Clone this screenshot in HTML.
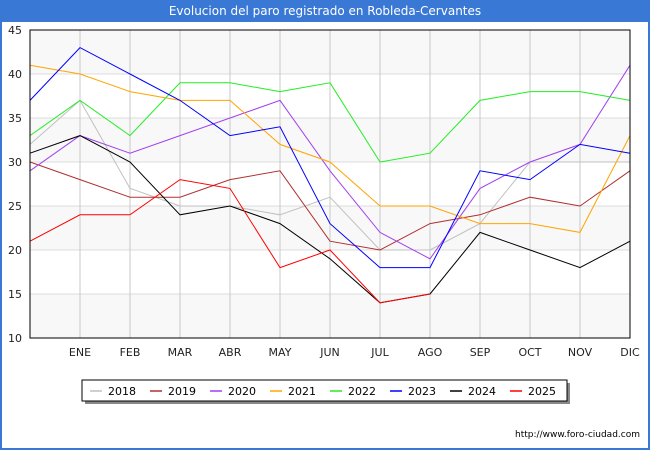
<!DOCTYPE html>
<html><head><meta charset="utf-8"><style>
body{margin:0;background:#fff;font-family:"DejaVu Sans","Liberation Sans",sans-serif}
#wrap{position:relative;width:650px;height:450px;overflow:hidden}
#title{position:absolute;left:0;top:0;width:650px;height:22px;background:#3a78d6;color:#fff;font-size:12px;text-align:center;line-height:22px}
#frame{position:absolute;left:0;top:22px;width:646px;height:426px;border:2px solid #3a78d6;border-top:none}
svg text{font-family:"DejaVu Sans","Liberation Sans",sans-serif}
</style></head><body>
<div id="wrap">
<div id="frame"></div>
<div id="title">Evolucion del paro registrado en Robleda-Cervantes</div>
<svg id="svg" width="650" height="450" style="position:absolute;left:0;top:0"></svg>
</div>
<script>
const months=["","ENE","FEB","MAR","ABR","MAY","JUN","JUL","AGO","SEP","OCT","NOV","DIC"];
const yTicks=[10,15,20,25,30,35,40,45];
const years=["2018","2019","2020","2021","2022","2023","2024","2025"];
const colors=["#c0c0c0","#b03030","#a040f0","#ffa500","#22ee22","#0000ff","#000000","#ff0000"];
const s2018=[32,37,27,25,25,24,26,20,20,23,30,30,30];
const s2019=[30,28,26,26,28,29,21,20,23,24,26,25,29];
const s2020=[29,33,31,33,35,37,29,22,19,27,30,32,41];
const s2021=[41,40,38,37,37,32,30,25,25,23,23,22,33];
const s2022=[33,37,33,39,39,38,39,30,31,37,38,38,37];
const s2023=[37,43,40,37,33,34,23,18,18,29,28,32,31];
const s2024=[31,33,30,24,25,23,19,14,15,22,20,18,21];
const s2025=[21,24,24,28,27,18,20,14,15];
const series=[s2018,s2019,s2020,s2021,s2022,s2023,s2024,s2025];
const L=30,R=630,T=30,B=338,yMin=10,yMax=45;
const X=i=>L+i*(R-L)/(months.length-1);
const Y=v=>B-(v-yMin)*(B-T)/(yMax-yMin);
const svg=document.getElementById('svg');const NS="http://www.w3.org/2000/svg";
function mk(t,a,p){const e=document.createElementNS(NS,t);for(const k in a)e.setAttribute(k,a[k]);(p||svg).appendChild(e);return e;}
for(let i=0;i<yTicks.length-1;i++){
 const r=mk('rect',{x:L,y:Y(yTicks[i+1]),width:R-L,height:Y(yTicks[i])-Y(yTicks[i+1]),fill:(i%2==0)?'#f8f8f8':'#ffffff'});
 
}
yTicks.forEach(v=>{
 const l=mk('line',{x1:L,x2:R,y1:Y(v),y2:Y(v),stroke:'#dddddd','stroke-width':1});
 
 const t=mk('text',{x:L-8,y:Y(v)+4,'text-anchor':'end','font-size':11,fill:'#222'});t.textContent=v;
 
});
months.forEach((m,i)=>{
 if(i>0){const l=mk('line',{x1:X(i),x2:X(i),y1:T,y2:B,stroke:'#c8c8c8','stroke-width':1});
 }
 const t=mk('text',{x:X(i),y:B+18,'text-anchor':'middle','font-size':11,fill:'#222'});t.textContent=m;
 
});
series.forEach((s,k)=>{
 const p=mk('polyline',{points:s.map((v,i)=>X(i)+','+Y(v)).join(' '),fill:'none',stroke:colors[k],'stroke-width':1});
 
});
const ax=mk('rect',{x:L,y:T,width:R-L,height:B-T,fill:'none',stroke:'#000','stroke-width':1});

const lg=mk('g',{});
mk('rect',{x:85,y:383,width:485,height:21,fill:'#888'},lg);
mk('rect',{x:82,y:380,width:485,height:21,fill:'#fff',stroke:'#000','stroke-width':1},lg);
years.forEach((y,k)=>{
 const g=mk('g',{},lg);
 const x0=90+k*60;
 mk('line',{x1:x0,x2:x0+12,y1:391,y2:391,stroke:colors[k],'stroke-width':1.5},g);
 const t=mk('text',{x:x0+18,y:395,'font-size':11,fill:'#000'},g);t.textContent=y;
});
const u=mk('text',{x:640,y:437,'text-anchor':'end','font-size':9,fill:'#000'});u.textContent='http://www.foro-ciudad.com';

</script>
</body></html>
